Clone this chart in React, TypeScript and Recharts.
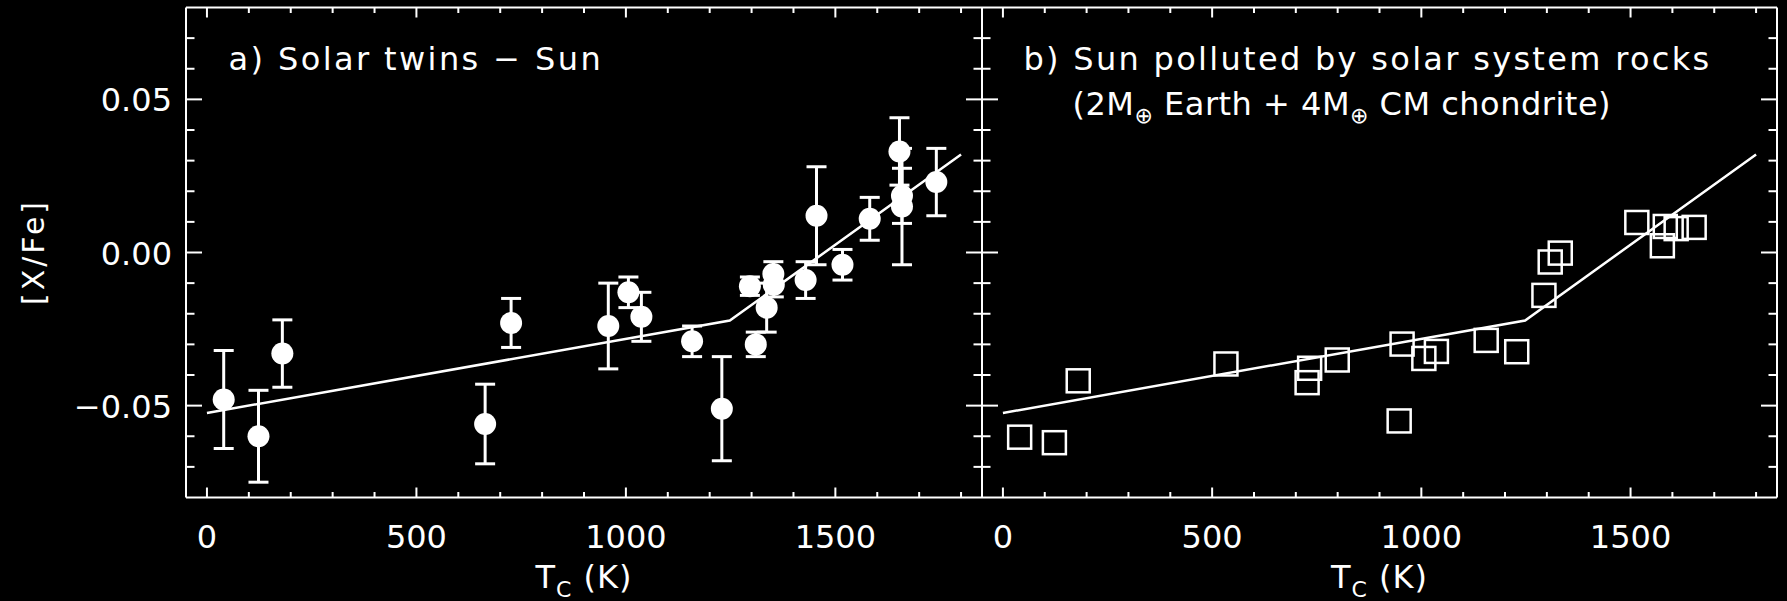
import React from "react";
import { ScatterChart, Scatter, XAxis, YAxis, ErrorBar, ReferenceLine } from "recharts";

// panel a: solar twins - Sun
const tcTwins = [40, 123, 180, 664, 726, 958, 1006, 1037, 1158, 1229, 1296, 1310, 1336, 1352, 1353, 1429, 1455, 1517, 1582, 1653, 1659, 1659, 1741];
const xfeTwins = [-0.048, -0.06, -0.033, -0.056, -0.023, -0.024, -0.013, -0.021, -0.029, -0.051, -0.011, -0.03, -0.018, -0.007, -0.0105, -0.009, 0.012, -0.004, 0.011, 0.033, 0.0185, 0.015, 0.023];
const errTwins = [0.016, 0.015, 0.011, 0.013, 0.008, 0.014, 0.005, 0.008, 0.005, 0.017, 0.003, 0.004, 0.008, 0.004, 0.004, 0.006, 0.016, 0.005, 0.007, 0.011, 0.009, 0.019, 0.011];

// panel b: Sun polluted by rocks (model)
const tcModel = [40, 123, 180, 533, 727, 733, 799, 947, 954, 1006, 1036, 1155, 1228, 1293, 1308, 1332, 1515, 1576, 1583, 1609, 1652];
const xfeModel = [-0.0603, -0.0621, -0.0419, -0.0364, -0.0425, -0.0378, -0.0351, -0.055, -0.0299, -0.0346, -0.0323, -0.0287, -0.0324, -0.014, -0.0031, -0.0002, 0.0098, 0.0022, 0.0085, 0.0078, 0.0082];

// broken-line fit, same in both panels
const fitTc = [0, 1248, 1800];
const fitXfe = [-0.0524, -0.0222, 0.032];

const xTicks = [0, 100, 200, 300, 400, 500, 600, 700, 800, 900, 1000, 1100, 1200, 1300, 1400, 1500, 1600, 1700, 1800];
const xMajor = [0, 500, 1000, 1500];
const yTicks = [-0.07, -0.06, -0.05, -0.04, -0.03, -0.02, -0.01, 0, 0.01, 0.02, 0.03, 0.04, 0.05, 0.06, 0.07];
const yMajor = [-0.05, 0, 0.05];

const W = 1787;
const H = 601;
const TOP = 7.5;
const BOTTOM = 497.5;
const A_LEFT = 186;
const MID = 982;
const B_RIGHT = 1777;
const XAXIS_H = 30;
const YAXIS_W = 60;
const FG = "#ffffff";
const FONT = "DejaVu Sans";

const twins = tcTwins.map((x, i) => ({ x, y: xfeTwins[i], err: errTwins[i] }));
const model = tcModel.map((x, i) => ({ x, y: xfeModel[i] }));
const fit = fitTc.map((x, i) => ({ x, y: fitXfe[i] }));

const isMajorY = (v: number) => yMajor.some((m) => Math.abs(m - v) < 1e-9);
const fmtY = (v: number) => (v < 0 ? "\u2212" : "") + Math.abs(v).toFixed(2);

function makeXTick() {
  return (props: any) => {
    const { x, payload } = props;
    const major = xMajor.includes(payload.value);
    const len = major ? 10 : 5.5;
    return (
      <g>
        <line x1={x} x2={x} y1={BOTTOM} y2={BOTTOM - len} stroke={FG} strokeWidth={2} />
        <line x1={x} x2={x} y1={TOP} y2={TOP + len} stroke={FG} strokeWidth={2} />
        {major && (
          <text x={x} y={BOTTOM + 50} textAnchor="middle" fill={FG} fontSize={32} fontFamily={FONT}>
            {payload.value}
          </text>
        )}
      </g>
    );
  };
}

function makeYTick(left: number, right: number, labels: boolean) {
  return (props: any) => {
    const { y, payload } = props;
    const major = isMajorY(payload.value);
    const len = major ? 16 : 8.5;
    return (
      <g>
        <line x1={left} x2={left + len} y1={y} y2={y} stroke={FG} strokeWidth={2} />
        <line x1={right} x2={right - len} y1={y} y2={y} stroke={FG} strokeWidth={2} />
        {labels && major && (
          <text x={left - 14} y={y + 12} textAnchor="end" fill={FG} fontSize={32} fontFamily={FONT}>
            {fmtY(payload.value)}
          </text>
        )}
      </g>
    );
  };
}

const dot = (p: any) => <circle cx={p.cx} cy={p.cy} r={11} fill={FG} />;
const box = (p: any) => (
  <rect x={p.cx - 11.5} y={p.cy - 11.5} width={23} height={23} fill="none" stroke={FG} strokeWidth={2.5} />
);
const noMark = () => <g />;

function Panel({ left, right, labels, children }: { left: number; right: number; labels: boolean; children: React.ReactNode }) {
  return (
    <div style={{ position: "absolute", left: 0, top: 0 }}>
      <ScatterChart
        width={W}
        height={H}
        margin={{ top: TOP, bottom: H - BOTTOM - XAXIS_H, left: left - YAXIS_W, right: W - right }}
      >
        <XAxis
          type="number"
          dataKey="x"
          domain={[-50, 1850]}
          allowDataOverflow
          ticks={xTicks}
          interval={0}
          height={XAXIS_H}
          tickSize={0}
          tickMargin={0}
          axisLine={{ stroke: FG, strokeWidth: 2 }}
          tickLine={false}
          tick={makeXTick()}
        />
        <YAxis
          type="number"
          dataKey="y"
          domain={[-0.08, 0.08]}
          allowDataOverflow
          ticks={yTicks}
          interval={0}
          width={YAXIS_W}
          tickSize={0}
          tickMargin={0}
          axisLine={{ stroke: FG, strokeWidth: 2 }}
          tickLine={false}
          tick={makeYTick(left, right, labels)}
        />
        <ReferenceLine y={0.08} stroke={FG} strokeWidth={2} />
        <ReferenceLine x={1850} stroke={FG} strokeWidth={2} />
        {children}
        <Scatter
          data={fit}
          line={{ stroke: FG, strokeWidth: 2.5 }}
          lineType="joint"
          shape={noMark}
          fill={FG}
          stroke={FG}
          isAnimationActive={false}
        />
      </ScatterChart>
    </div>
  );
}

export default function App() {
  return (
    <div style={{ position: "absolute", left: 0, top: 0, width: W, height: H, background: "#000", overflow: "hidden" }}>
      <Panel left={A_LEFT} right={MID} labels>
        <Scatter data={twins} shape={dot} fill={FG} isAnimationActive={false}>
          <ErrorBar dataKey="err" direction="y" width={10} stroke={FG} strokeWidth={3} />
        </Scatter>
      </Panel>
      <Panel left={MID} right={B_RIGHT} labels={false}>
        <Scatter data={model} shape={box} fill="none" isAnimationActive={false} />
      </Panel>
      <svg width={W} height={H} style={{ position: "absolute", left: 0, top: 0, pointerEvents: "none" }}>
        <g fill={FG} fontFamily={FONT}>
          <text x={228.5} y={70} fontSize={32} letterSpacing={2.4}>
            a) Solar twins {"\u2212"} Sun
          </text>
          <text x={1023.5} y={70} fontSize={32} letterSpacing={2.3}>
            b) Sun polluted by solar system rocks
          </text>
          <text x={1072.5} y={115} fontSize={32} letterSpacing={0.5}>
            (2M<tspan fontSize={22} dy={8}>{"\u2295"}</tspan>
            <tspan dy={-8}> Earth + 4M</tspan>
            <tspan fontSize={22} dy={8}>{"\u2295"}</tspan>
            <tspan dy={-8}> CM chondrite)</tspan>
          </text>
          <text x={(A_LEFT + MID) / 2} y={588} fontSize={32} textAnchor="middle" letterSpacing={1}>
            T<tspan fontSize={22} dy={9}>C</tspan>
            <tspan dy={-9}> (K)</tspan>
          </text>
          <text x={(MID + B_RIGHT) / 2} y={588} fontSize={32} textAnchor="middle" letterSpacing={1}>
            T<tspan fontSize={22} dy={9}>C</tspan>
            <tspan dy={-9}> (K)</tspan>
          </text>
          <text transform="translate(43.5, 252) rotate(-90)" fontSize={30} textAnchor="middle" letterSpacing={3}>
            [X/Fe]
          </text>
        </g>
      </svg>
    </div>
  );
}
